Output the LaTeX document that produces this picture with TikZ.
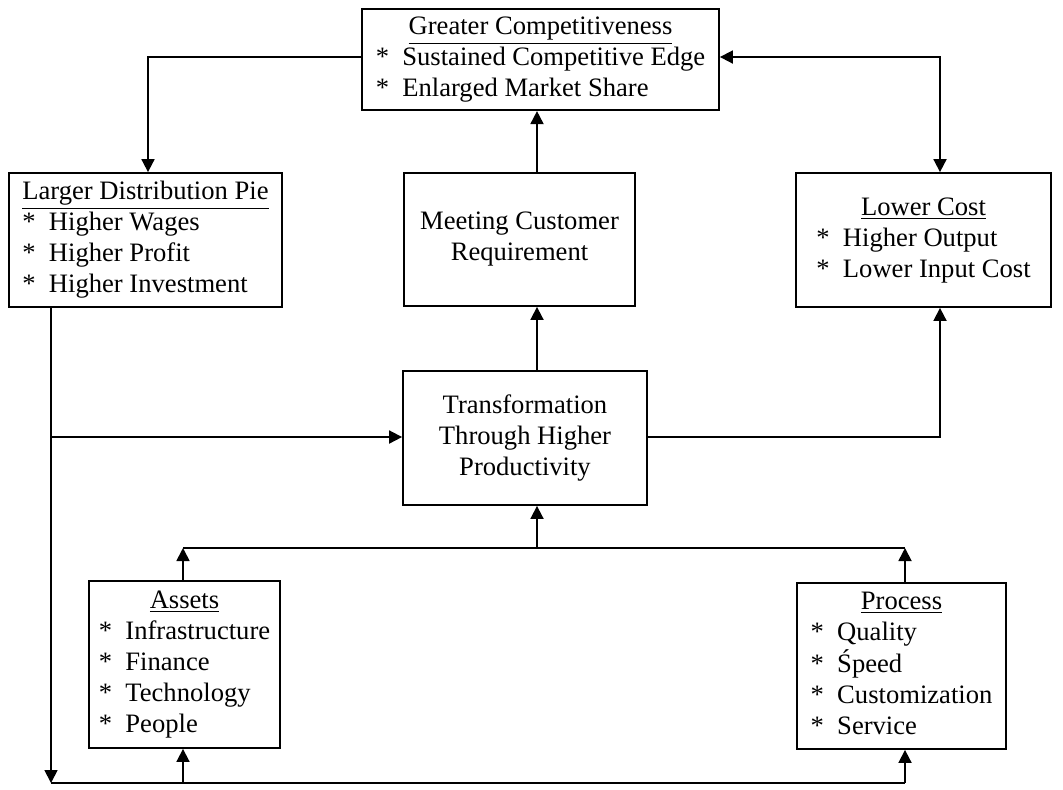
\documentclass[tikz,border=0pt]{standalone}
\usepackage{fontspec}
\setmainfont{Liberation Serif}
\usetikzlibrary{arrows.meta}
\newcommand{\bitem}{*\hspace{0.5em}}
\newcommand{\boxtitle}[1]{\multicolumn{1}{@{}c@{}}{\underline{#1}}}
\tikzset{
  box/.style={draw, line width=0.9pt, inner sep=2pt, align=center,
    font=\fontsize{13.3}{15.5}\selectfont},
  conn/.style={line width=0.9pt},
  arr/.style={conn, -{Triangle[length=6.5pt,width=6.5pt]}},
  darr/.style={conn, {Triangle[length=6.5pt,width=6.5pt]}-{Triangle[length=6.5pt,width=6.5pt]}}
}
\begin{document}
\begin{tikzpicture}[x=0.5pt,y=-0.5pt]
\useasboundingbox (0,0) rectangle (1063,789);

\node[box, minimum width=178.5pt, minimum height=49.5pt] (top) at (540.5,59.5)
  {\begin{tabular}{@{}l@{}}\boxtitle{Greater Competitiveness}\\ \bitem Sustained Competitive Edge\\ \bitem Enlarged Market Share\end{tabular}};

\node[box, minimum width=136.5pt, minimum height=67pt] (dist) at (145.5,240)
  {\begin{tabular}{@{}l@{}}\boxtitle{Larger Distribution Pie}\\ \bitem Higher Wages\\ \bitem Higher Profit\\ \bitem Higher Investment\end{tabular}};

\node[box, minimum width=115.5pt, minimum height=66.5pt] (meet) at (519.5,239.5)
  {Meeting Customer\\Requirement};

\node[box, minimum width=127.5pt, minimum height=67pt] (lower) at (923.5,240)
  {\begin{tabular}{@{}l@{}}\boxtitle{Lower Cost}\\ \bitem Higher Output\\ \bitem Lower Input Cost\end{tabular}};

\node[box, minimum width=122pt, minimum height=67pt] (trans) at (525,438)
  {Transformation\\Through Higher\\Productivity};

\node[box, minimum width=95.5pt, minimum height=83.5pt] (assets) at (184.5,664.5)
  {\begin{tabular}{@{}l@{}}\boxtitle{Assets}\\ \bitem Infrastructure\\ \bitem Finance\\ \bitem Technology\\ \bitem People\end{tabular}};

\node[box, minimum width=104.5pt, minimum height=83pt] (process) at (901.5,666)
  {\begin{tabular}{@{}l@{}}\boxtitle{Process}\\ \bitem Quality\\ \bitem Śpeed\\ \bitem Customization\\ \bitem Service\end{tabular}};

\coordinate (c1) at (148,57);
\coordinate (c2) at (940,57);
\coordinate (cx) at (537,0);
\coordinate (c3) at (940,437);
\coordinate (c4) at (51,437);
\coordinate (c5) at (51,783);
\coordinate (c6) at (905,783);
\coordinate (c7) at (183,783);
\coordinate (c8) at (183,548);
\coordinate (c9) at (905,548);

\draw[arr] (top.west |- c1) -- (c1) -- (c1 |- dist.north);
\draw[darr] (top.east |- c2) -- (c2) -- (c2 |- lower.north);
\draw[arr] (cx |- meet.north) -- (cx |- top.south);
\draw[arr] (cx |- trans.north) -- (cx |- meet.south);
\draw[arr] (trans.east |- c3) -- (c3) -- (c3 |- lower.south);
\draw[arr] (c4 |- dist.south) -- (c5);
\draw[arr] (c4) -- (c4 -| trans.west);
\draw[conn] (c5) -- (c6);
\draw[arr] (c6) -- (c6 |- process.south);
\draw[arr] (c7) -- (c7 |- assets.south);
\draw[arr] (c8 |- assets.north) -- (c8);
\draw[arr] (c9 |- process.north) -- (c9);
\draw[conn] (c8) -- (c9);
\draw[arr] (cx |- c8) -- (cx |- trans.south);
\end{tikzpicture}
\end{document}
